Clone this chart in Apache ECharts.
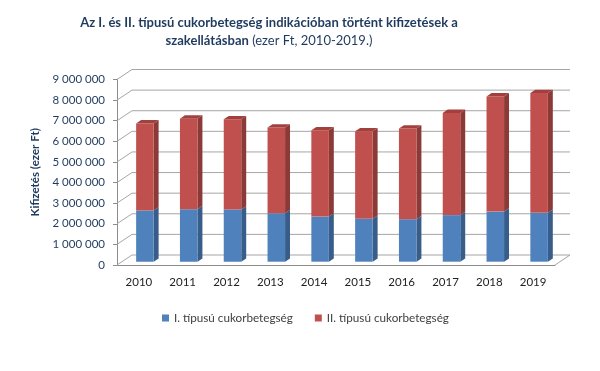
<!DOCTYPE html>
<html>
<head>
<meta charset="utf-8">
<script src="https://cdn.jsdelivr.net/npm/echarts@6/dist/echarts.min.js"></script>
<style>html,body{margin:0;padding:0;background:#fff;}#c{width:600px;height:371px;}</style>
</head>
<body>
<div id="c"></div>
<script>
const years = ['2010','2011','2012','2013','2014','2015','2016','2017','2018','2019'];
const type1 = [2480000, 2550000, 2530000, 2350000, 2190000, 2080000, 2060000, 2260000, 2430000, 2370000];
const type2 = [4230000, 4390000, 4380000, 4160000, 4190000, 4250000, 4400000, 4960000, 5590000, 5810000];
const yTicks = [0, 1000000, 2000000, 3000000, 4000000, 5000000, 6000000, 7000000, 8000000, 9000000];
const seriesNames = ['I. típusú cukorbetegség', 'II. típusú cukorbetegség'];

const DX = 15, DY = -10;
const FONT = 'Lato, "Open Sans", sans-serif';
const NAVY = '#1F3A5F';

function fmt(v) { return String(v).replace(/\B(?=(\d{3})+(?!\d))/g, ' '); }

function barRenderer(front, side, topColor) {
  return function (params, api) {
    const i = api.value(0), base = api.value(1), top = api.value(2);
    const p0 = api.coord([i, base]);
    const p1 = api.coord([i, top]);
    const band = api.size([1, 0])[0];
    const w = band * 0.4;
    const ox = DX * 0.4, oy = DY * 0.33;
    const xl = p0[0] - w / 2 + ox, xr = xl + w;
    const yb = p0[1] + oy, yt = p1[1] + oy;
    const dx = DX * 0.33, dy = DY * 0.33;
    const children = [
      { type: 'polygon', shape: { points: [[xr, yb], [xr, yt], [xr + dx, yt + dy], [xr + dx, yb + dy]] }, style: { fill: side } },
      { type: 'rect', shape: { x: xl, y: yt, width: w, height: yb - yt }, style: { fill: front } }
    ];
    if (topColor) {
      children.push({ type: 'polygon', shape: { points: [[xl, yt], [xr, yt], [xr + dx, yt + dy], [xl + dx, yt + dy]] }, style: { fill: topColor } });
    }
    return { type: 'group', children: children };
  };
}

const blueData = years.map((y, i) => [i, 0, type1[i]]);
const redData = years.map((y, i) => [i, type1[i], type1[i] + type2[i]]);
const wallData = yTicks.map(v => [0, v]);

const chart = echarts.init(document.getElementById('c'));
chart.setOption({
  animation: false,
  backgroundColor: '#fff',
  title: {
    left: 264, top: 9, textAlign: 'center',
    text: '{b|Az I. és II. típusú cukorbetegség indikációban történt kifizetések a}\n{b|szakellátásban}{n| (ezer Ft, 2010-2019.)}',
    textStyle: {
      rich: {
        b: { fontFamily: FONT, fontSize: 13, fontWeight: 'bold', color: NAVY, lineHeight: 18 },
        n: { fontFamily: FONT, fontSize: 13, fontWeight: 'normal', color: NAVY, lineHeight: 18 }
      }
    }
  },
  legend: {
    data: seriesNames,
    left: 157, top: 307,
    icon: 'rect', itemWidth: 7, itemHeight: 7, itemGap: 22,
    textStyle: { fontFamily: FONT, fontSize: 11.7, color: '#404040' }
  },
  grid: { left: 117, right: 45, top: 79.5, bottom: 106 },
  xAxis: {
    type: 'category', data: years,
    axisLine: { lineStyle: { color: '#8c8c8c' } },
    axisTick: { length: 4, lineStyle: { color: '#8c8c8c' } },
    axisLabel: { fontFamily: FONT, fontSize: 11.5, color: '#222', margin: 11 }
  },
  yAxis: {
    type: 'value', min: 0, max: 9000000, interval: 1000000,
    name: 'Kifizetés (ezer Ft)', nameLocation: 'middle', nameGap: 74,
    nameTextStyle: { fontFamily: FONT, fontSize: 11.5, fontWeight: 'bold', color: NAVY },
    axisLine: { show: true, lineStyle: { color: '#8c8c8c' } },
    axisTick: { show: true, length: 4, lineStyle: { color: '#8c8c8c' } },
    splitLine: { show: false },
    axisLabel: { fontFamily: FONT, fontSize: 11.5, color: NAVY, margin: 12, formatter: fmt }
  },
  series: [
    {
      type: 'custom', name: 'walls', silent: true, z: 1,
      data: wallData, encode: { x: 0, y: 1 },
      renderItem: function (params, api) {
        const cs = params.coordSys;
        const y = api.coord([0, api.value(1)])[1];
        const x0 = cs.x, x1 = cs.x + cs.width;
        const st = { stroke: '#a6a6a6', lineWidth: 1 };
        const ch = [
          { type: 'line', shape: { x1: x0, y1: y, x2: x0 + DX, y2: y + DY }, style: st },
          { type: 'line', shape: { x1: x0 + DX, y1: y + DY, x2: x1 + DX, y2: y + DY }, style: st }
        ];
        if (api.value(1) === 0) {
          ch.push({ type: 'line', shape: { x1: x1, y1: y, x2: x1 + DX, y2: y + DY }, style: st });
        }
        return { type: 'group', children: ch };
      }
    },
    {
      type: 'custom', name: seriesNames[0], z: 3,
      itemStyle: { color: '#4F81BD' },
      data: blueData, encode: { x: 0, y: [1, 2] },
      renderItem: barRenderer('#4F81BD', '#385D8A', null)
    },
    {
      type: 'custom', name: seriesNames[1], z: 4,
      itemStyle: { color: '#C0504D' },
      data: redData, encode: { x: 0, y: [1, 2] },
      renderItem: barRenderer('#C0504D', '#8C3A37', '#A3403D')
    }
  ]
});
</script>
</body>
</html>
